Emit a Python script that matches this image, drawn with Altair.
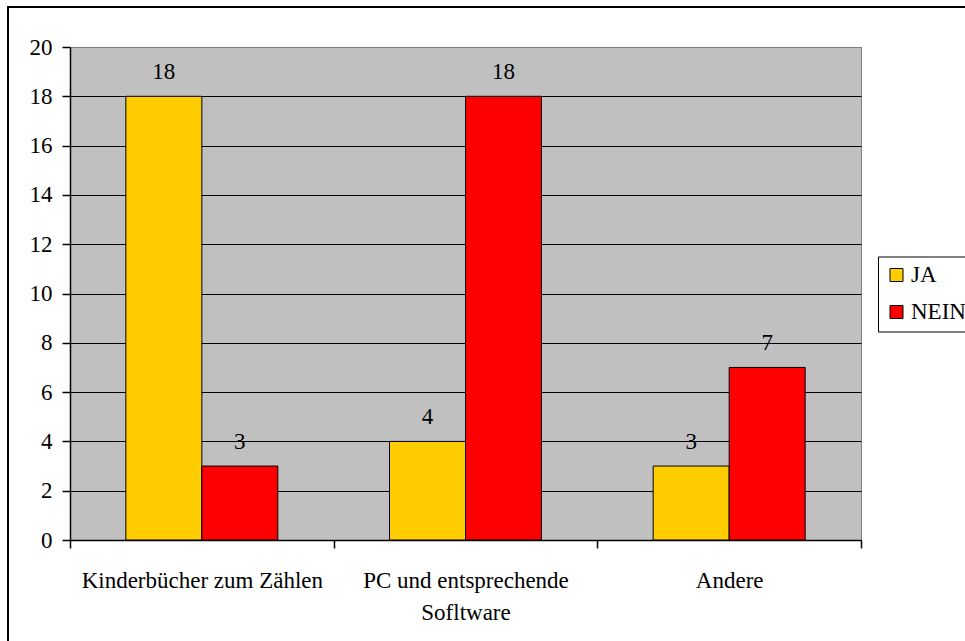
import altair as alt
import pandas as pd

# Survey answers per category
categories = ["Kinderbücher zum Zählen", "PC und entsprechende Sofltware", "Andere"]
series = ["JA", "NEIN"]
ja_values = [18, 4, 3]
nein_values = [3, 18, 7]
y_ticks = [0, 2, 4, 6, 8, 10, 12, 14, 16, 18, 20]

rows = []
for cat, ja, nein in zip(categories, ja_values, nein_values):
    rows.append({"Kategorie": cat, "Antwort": "JA", "Anzahl": ja})
    rows.append({"Kategorie": cat, "Antwort": "NEIN", "Anzahl": nein})
df = pd.DataFrame(rows)

FONT = "Liberation Serif"
FS = 23

x_enc = alt.X(
    "Kategorie:N",
    sort=categories,
    scale=alt.Scale(paddingInner=0, paddingOuter=0),
    axis=alt.Axis(
        title=None,
        labelAngle=0,
        labelLimit=0,
        labelFont=FONT,
        labelFontSize=FS,
        tickBand="extent",
        tickSize=8,
        tickWidth=1.5,
        tickColor="black",
        domainColor="black",
        domainWidth=1.5,
        labelPadding=39,
        labelBaseline="alphabetic",
        labelLineHeight=32,
        labelExpr="datum.label == 'PC und entsprechende Sofltware' ? ['PC und entsprechende', 'Sofltware'] : datum.label",
        grid=False,
    ),
)
xoff_enc = alt.XOffset(
    "Antwort:N",
    sort=series,
    scale=alt.Scale(paddingInner=0, paddingOuter=0.735),
)
y_enc = alt.Y(
    "Anzahl:Q",
    scale=alt.Scale(domain=[0, 20], nice=False, zero=True),
    axis=alt.Axis(
        title=None,
        values=y_ticks,
        labelFont=FONT,
        labelFontSize=FS,
        tickSize=8,
        tickWidth=1.5,
        tickColor="black",
        domainColor="black",
        domainWidth=1.5,
        labelPadding=10,
        grid=True,
        gridColor={"condition": {"test": "datum.value === 20", "value": "#808080"}, "value": "black"},
        gridWidth=1,
    ),
)

bars = alt.Chart(df).mark_bar(stroke="black", strokeWidth=1).encode(
    x=x_enc,
    xOffset=xoff_enc,
    y=y_enc,
    color=alt.Color(
        "Antwort:N",
        sort=series,
        scale=alt.Scale(domain=series, range=["#FFCC00", "#FF0000"]),
        legend=alt.Legend(
            title=None,
            orient="none",
            legendX=808,
            legendY=209.5,
            strokeColor="black",
            padding=7,
            symbolType="square",
            symbolSize=169,
            symbolStrokeColor="black",
            symbolStrokeWidth=1,
            symbolOpacity=1,
            labelFont=FONT,
            labelFontSize=FS,
            labelColor="black",
            labelOffset=3,
            labelLimit=0,
            rowPadding=13,
        ),
    ),
)

labels = alt.Chart(df).mark_text(
    font=FONT, fontSize=FS, color="black", baseline="alphabetic", dy=-17.5
).encode(
    x=alt.X("Kategorie:N", sort=categories),
    xOffset=alt.XOffset("Antwort:N", sort=series),
    y=alt.Y("Anzahl:Q"),
    text=alt.Text("Anzahl:Q"),
)

# Outer frame around the whole chart
frame = alt.Chart(pd.DataFrame({"a": [0]})).mark_rect(
    fill=None, stroke="black", strokeWidth=2, clip=False
).encode(
    x=alt.value(-62), x2=alt.value(1000), y=alt.value(-40), y2=alt.value(700)
)

chart = (
    alt.layer(bars, labels, frame)
    .properties(
        width=791,
        height=493,
        padding={"left": 70, "top": 47, "right": 104, "bottom": 101},
        autosize=alt.AutoSizeParams(type="none"),
        background="white",
    )
    .configure(font=FONT)
    .configure_view(fill="#C0C0C0", stroke="#808080", strokeWidth=1)
    .configure_axis(labelFont=FONT, labelFontSize=FS, labelColor="black")
)

chart.save("out.html", embed_options={"renderer": "svg", "actions": False})
